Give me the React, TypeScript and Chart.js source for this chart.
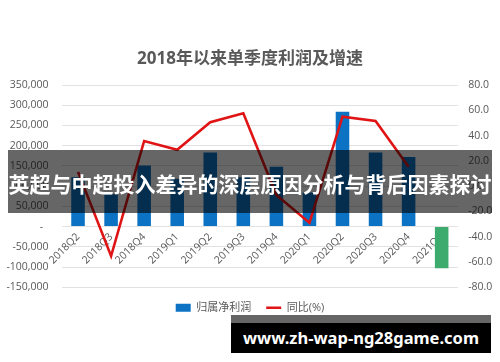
import React, { useEffect, useRef } from 'react';
import { Chart, registerables } from 'chart.js';

Chart.register(...registerables);

// ---- data ----
const categories = [
  '2018Q2', '2018Q3', '2018Q4', '2019Q1', '2019Q2', '2019Q3',
  '2019Q4', '2020Q1', '2020Q2', '2020Q3', '2020Q4', '2021Q1',
];
const netProfit = [
  122000, 80000, 151000, 118000, 183000, 122000,
  148000, 84000, 284000, 183000, 172000, -103000,
];
const yoyGrowth = [
  11.3, -55.3, 35.7, 28.8, 50.5, 57.6,
  -7.0, -29.0, 54.9, 51.5, 15.4, null,
];
const leftAxisRange = [-150000, 350000, 50000];
const rightAxisRange = [-80, 80, 20];
const seriesNames = ['归属净利润', '同比(%)'];
const chartTitle = '2018年以来单季度利润及增速';
const bannerText = '英超与中超投入差异的深层原因分析与背后因素探讨';
const watermarkText = 'www.zh-wap-ng28game.com';

// ---- styles ----
const BLUE = '#0B72C4';
const GREEN = '#3DAA6E';
const RED = '#E01414';
const GRID = '#e2e2e2';
const TEXT = '#595959';
const FONT = "'Open Sans', 'Noto Sans CJK SC', sans-serif";

export default function App() {
  const ref = useRef<HTMLCanvasElement>(null);

  useEffect(() => {
    const canvas = ref.current;
    if (!canvas) return;
    const chart = new Chart(canvas, {
      type: 'bar',
      data: {
        labels: categories,
        datasets: [
          {
            type: 'bar',
            label: seriesNames[0],
            data: netProfit,
            backgroundColor: (c: any) => (c.raw < 0 ? GREEN : BLUE),
            yAxisID: 'y',
            barPercentage: 0.41,
            categoryPercentage: 1,
            order: 1,
            pointStyle: 'rect',
          } as any,
          {
            type: 'line',
            label: seriesNames[1],
            data: yoyGrowth,
            borderColor: RED,
            backgroundColor: RED,
            borderWidth: 2.6,
            pointRadius: 0,
            tension: 0,
            yAxisID: 'y1',
            order: 0,
            pointStyle: 'line',
          } as any,
        ],
      },
      options: {
        animation: false,
        responsive: false,
        layout: { padding: { top: 85, bottom: 38.7, left: 0, right: 0 } },
        plugins: {
          title: { display: false },
          tooltip: { enabled: false },
          legend: {
            position: 'bottom',
            labels: {
              usePointStyle: true,
              pointStyleWidth: 15,
              boxHeight: 8,
              padding: 15,
              color: TEXT,
              font: { family: FONT, size: 11 },
              sort: (a: any, b: any) => a.datasetIndex - b.datasetIndex,
            },
          },
        },
        scales: {
          x: {
            position: { y: 0 } as any,
            z: 1,
            grid: { display: false, drawTicks: false },
            border: { display: false },
            ticks: {
              autoSkip: false,
              minRotation: 45,
              maxRotation: 45,
              padding: 4,
              color: TEXT,
              font: { family: FONT, size: 10.5 },
            },
            afterFit: (s: any) => {
              s.height = 0;
            },
          },
          y: {
            position: 'left',
            min: leftAxisRange[0],
            max: leftAxisRange[1],
            grid: { color: GRID, drawTicks: false, lineWidth: 1 },
            border: { display: false },
            ticks: {
              stepSize: leftAxisRange[2],
              padding: 13,
              color: TEXT,
              font: { family: FONT, size: 10.5 },
              callback: (v: any) => (Number(v) === 0 ? '-  ' : Number(v).toLocaleString('en-US')),
            },
            afterFit: (s: any) => {
              s.width = 61.5;
            },
          },
          y1: {
            position: 'right',
            min: rightAxisRange[0],
            max: rightAxisRange[1],
            grid: { display: false, drawTicks: false },
            border: { display: false },
            ticks: {
              stepSize: rightAxisRange[2],
              padding: 10,
              color: TEXT,
              font: { family: FONT, size: 10.5 },
              callback: (v: any) => Number(v).toFixed(1),
            },
            afterFit: (s: any) => {
              s.width = 41.8;
            },
          },
        },
      } as any,
    });
    return () => chart.destroy();
  }, []);

  return (
    <div
      style={{
        position: 'absolute',
        left: 0,
        top: 0,
        width: 500,
        height: 362,
        background: '#fff',
        overflow: 'hidden',
      }}
    >
      <canvas ref={ref} width={500} height={362} style={{ display: 'block', width: 500, height: 362 }} />
      <div
        style={{
          position: 'absolute',
          left: 0,
          top: 47,
          width: 500,
          height: 22,
          lineHeight: '22px',
          textAlign: 'center',
          fontFamily: FONT,
          fontWeight: 700,
          fontSize: 17,
          color: TEXT,
          whiteSpace: 'nowrap',
        }}
      >
        {chartTitle}
      </div>
      <div
        style={{
          position: 'absolute',
          left: 8,
          top: 150,
          width: 484,
          height: 63,
          background: 'rgba(0,0,0,0.6)',
          color: '#fff',
          fontFamily: "'Noto Sans CJK SC', sans-serif",
          fontWeight: 700,
          fontSize: 21,
          lineHeight: '63px',
          paddingTop: 2,
          boxSizing: 'border-box',
          textAlign: 'center',
          whiteSpace: 'nowrap',
        }}
      >
        {bannerText}
      </div>
      <div
        style={{
          position: 'absolute',
          left: 231,
          top: 315,
          width: 260,
          height: 8,
          background: 'rgba(0,0,0,0.6)',
        }}
      />
      <div
        style={{
          position: 'absolute',
          left: 231,
          top: 323,
          width: 260,
          height: 30,
          background: '#000',
          color: '#fff',
          fontFamily: "'Noto Sans', sans-serif",
          fontWeight: 700,
          fontSize: 16.5,
          lineHeight: '30px',
          textAlign: 'center',
          whiteSpace: 'nowrap',
        }}
      >
        {watermarkText}
      </div>
    </div>
  );
}
